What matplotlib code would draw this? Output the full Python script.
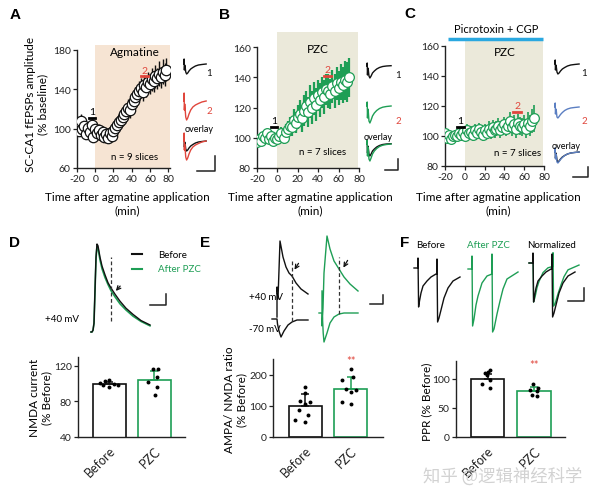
import matplotlib
matplotlib.use('Agg')
import matplotlib.pyplot as plt
from matplotlib.lines import Line2D
from matplotlib.patches import FancyArrowPatch

plt.rcParams['font.family'] = ['Lato', 'DejaVu Sans']
plt.rcParams['axes.unicode_minus'] = False

# ---------------- data ----------------
GREEN = '#1e9e55'
RED = '#e0463c'
BLUE = '#5b7fc2'
BLUE_BAR = '#2aa8e0'

tA = list(range(-20, 80, 2))
A_val = [104, 98, 108, 100, 103, 95, 101, 97, 104, 92,
         100, 96, 99, 94, 97, 92, 95, 90, 96, 93,
         98, 101, 104, 107, 109, 112, 115, 118, 121, 119,
         125, 128, 132, 135, 138, 141, 137, 144, 142, 147,
         145, 150, 148, 153, 151, 156, 152, 158, 155, 160]
A_err = [6, 5, 7, 5, 6, 5, 6, 5, 6, 5,
         5, 5, 6, 5, 6, 5, 5, 5, 6, 5,
         6, 6, 7, 7, 7, 8, 8, 8, 9, 8,
         9, 9, 10, 9, 10, 10, 9, 11, 10, 11,
         10, 12, 11, 12, 11, 13, 11, 13, 12, 12]

tB = list(range(-20, 72, 2))
B_val = [97, 99, 98, 101, 100, 103, 99, 101, 98, 100,
         99, 101, 103, 100, 104, 106, 108, 107, 112, 110,
         114, 116, 113, 118, 121, 117, 124, 120, 126, 122,
         128, 125, 130, 127, 132, 131, 129, 134, 131, 136,
         133, 137, 135, 138, 137, 140]
B_err = [2, 3, 3, 3, 3, 3, 3, 3, 3, 3,
         3, 3, 4, 4, 5, 5, 6, 6, 7, 7,
         8, 9, 9, 10, 10, 10, 11, 11, 11, 11,
         10, 11, 10, 11, 10, 11, 10, 11, 11, 11,
         11, 12, 12, 13, 13, 13]

tC = list(range(-20, 72, 2))
C_val = [102, 99, 101, 98, 100, 101, 100, 102, 101, 103,
         100, 104, 102, 103, 101, 104, 102, 105, 103, 101,
         104, 102, 105, 103, 106, 104, 105, 107, 104, 106,
         108, 105, 107, 110, 106, 108, 105, 109, 107, 106,
         108, 105, 109, 107, 110, 112]
C_err = [3, 3, 3, 3, 3, 3, 3, 3, 3, 3, 3, 4, 4, 4, 4, 4, 4, 4, 4, 4,
         4, 4, 5, 5, 5, 5, 5, 5, 5, 5, 5, 5, 5, 6, 6, 6, 6, 6, 6, 6,
         6, 6, 7, 7, 8, 9]

# fEPSP example traces (time ms, amplitude a.u.)
fep_t = [0, 0.3, 0.6, 1.0, 1.5, 2.2, 3.2, 4.5, 6, 8, 10.5, 13.5, 17, 21, 26]
A1 = [0, 5, -6, -1, -3, -8, -10, -9, -7, -5, -3.5, -2, -1, -0.5, 0]
A2 = [0, 8, -9, -3, -8, -16, -19, -17, -13, -9, -6, -4, -2.5, -1, 0]
B1 = [0, 3, -9, -2, -4, -10, -12, -10, -7, -5, -3, -1.5, -0.5, 0, 0.3]
B2 = [0, 4, -12, -3, -6, -15, -17, -14, -10, -7, -4.5, -2.5, -1.2, -0.5, 0]
C1 = [0, 4, -6, -1, -3, -8, -10, -9, -7, -5, -3.5, -2, -1, -0.5, 0]
C2 = [0, 4, -7, -2, -4, -10, -11, -9.5, -7.5, -5.5, -3.5, -2, -1, -0.5, 0]

# NMDA currents at +40 mV (panel D)
nmda_t = [-1, 0, 1, 2, 4, 5, 6, 8, 10, 13, 16, 19, 23, 28, 34, 41, 49, 58]
nmda_before = [0, 0, 0.02, 0.1, 0.85, 1.0, 0.98, 0.85, 0.75, 0.65, 0.56, 0.5, 0.43, 0.35, 0.27, 0.2, 0.13, 0.08]
nmda_after = [0, 0, 0.02, 0.1, 0.83, 0.98, 0.95, 0.82, 0.72, 0.62, 0.54, 0.47, 0.40, 0.32, 0.25, 0.18, 0.12, 0.07]

# AMPA/NMDA traces (panel E)
eb40_t = [0, 0, 1, 3, 6, 9, 12, 15, 19, 24, 31]
eb40_y = [2, 32, 20, 78, 62, 52, 46, 43, 36, 30, 25]
eb70_t = [-5, 0, 0.5, 2, 4, 7, 11, 15, 20, 31]
eb70_y = [0, 0, -5, -12, -18, -12, -6, -3, -1, -1]
ep40_t = [0, 0, 1, 2, 5, 8, 12, 17, 22, 28, 36]
ep40_y = [22, -13, 5, 40, 77, 64, 52, 44, 36, 29, 22]
ep70_t = [-3, 0, 0.5, 1.2, 2, 5, 8, 12, 17, 22, 36]
ep70_y = [0, 0, -5, -20, -29, -20, -10, -4, -1, 0, 0]

# paired-pulse traces (panel F)
fb_t = [-4, 0, 0, 0.6, 1.5, 3, 5, 9, 13, 18, 19, 19, 19.6, 21, 23, 26, 30, 35, 42]
fb_y = [0, 0, 10, -39, -33, -25, -18, -13, -9, -6, -6, 9, -54, -50, -42, -30, -20, -13, -9]
fa_t = [-4, 0, 0, 0.6, 2, 4, 6, 10, 15, 20, 20, 20.6, 22, 25, 28, 31, 35, 46]
fa_y = [0, 0, 13, -57, -50, -36, -27, -14, -7, -5, 15, -63, -60, -45, -32, -20, -10, -3]

# bar charts
bar_labels = ['Before', 'PZC']
D_mean = [100, 104]; D_err = [2, 10.5]
D_before = [101, 103, 104, 100, 99, 96, 98]
D_pzc = [116, 116, 108, 102, 96, 87]
E_mean = [100, 155]; E_err = [37, 37]
E_before = [159, 140, 114, 113, 106, 85, 69, 53, 49]
E_pzc = [219, 192, 182, 155, 152, 144, 112, 106]
F_mean = [100, 79]; F_err = [8, 7]
F_before = [115, 112, 110, 106, 97, 90, 83]
F_pzc = [91, 84, 81, 78, 72, 70]

D_jb = [-0.2, -0.1, 0.0, 0.1, 0.2, 0.0, -0.15]
D_jp = [-0.03, 0.08, 0.05, -0.14, 0.05, 0.02]
E_jb = [0.0, 0.0, -0.11, 0.11, 0.0, -0.14, 0.07, -0.22, 0.0]
E_jp = [0.01, 0.05, -0.2, -0.1, 0.12, 0.01, -0.2, 0.01]
F_jb = [0.06, 0.02, -0.05, -0.01, 0.06, -0.12, 0.06]
F_jp = [-0.01, 0.09, -0.09, 0.06, -0.05, 0.06]

# ---------------- figure ----------------
W, H = 600, 502
fig = plt.figure(figsize=(W / 100, H / 100), dpi=100)
SP = '#222222'


def px_axes(l, t, r, b):
    return fig.add_axes([l / W, 1 - b / H, (r - l) / W, (b - t) / H])


def ftext(x, y, s, **kw):
    kw.setdefault('ha', 'center')
    kw.setdefault('va', 'center')
    return fig.text(x / W, 1 - y / H, s, **kw)


def fline(xs, ys, **kw):
    kw.setdefault('color', SP)
    kw.setdefault('lw', 1.0)
    fig.add_artist(Line2D([x / W for x in xs], [1 - y / H for y in ys],
                          transform=fig.transFigure, **kw))


def farrow(x1, y1, x2, y2):
    fig.add_artist(FancyArrowPatch((x1 / W, 1 - y1 / H), (x2 / W, 1 - y2 / H),
                                   transform=fig.transFigure, arrowstyle='->',
                                   mutation_scale=7, lw=0.9, color='#111'))


def style(ax, fs=7.5):
    for s in ['top', 'right']:
        ax.spines[s].set_visible(False)
    for s in ['left', 'bottom']:
        ax.spines[s].set_color(SP)
        ax.spines[s].set_linewidth(1.0)
    ax.tick_params(direction='out', length=3, width=0.9, colors=SP,
                   labelsize=fs, pad=1.5, labelcolor='#222')


def trace_ax(l, t, r, b, xlim, ylim):
    a = px_axes(l, t, r, b)
    a.set_xlim(*xlim); a.set_ylim(*ylim)
    a.axis('off')
    return a


# ---- panel letters ----
for (x, y, s) in [(15, 15, 'A'), (225, 15, 'B'), (410, 14, 'C'),
                  (15, 243, 'D'), (205, 243, 'E'), (405, 243, 'F')]:
    ftext(x, y, s, fontsize=11, fontweight='bold', family='Liberation Sans')

# ---- time course panels ----
def timecourse(l, t, r, b, xlim, ylim, yticks, ybound, shade_end, shade_col,
               tt, vals, errs, col, elw, ms, label_txt, lab_xy):
    ax = px_axes(l, t, r, b)
    style(ax)
    ax.set_xlim(*xlim); ax.set_ylim(*ylim)
    ax.axvspan(0, shade_end, color=shade_col, zorder=0, lw=0)
    ax.errorbar(tt, vals, yerr=errs, fmt='o', mfc='white', mec=col, ms=ms,
                mew=0.9, ecolor=col, elinewidth=elw, capsize=0, zorder=3)
    ax.set_xticks([-20, 0, 20, 40, 60, 80])
    ax.set_yticks(yticks)
    ax.spines['left'].set_bounds(*ybound)
    ax.text(lab_xy[0], lab_xy[1], label_txt, ha='center', va='center', fontsize=8.5)
    return ax


def epoch_marks(ax, b1, y1, b2, y2):
    ax.plot(b1, [y1, y1], color='black', lw=2, zorder=6)
    ax.text(sum(b1) / 2, y1 + 1.5, '1', ha='center', va='bottom', fontsize=7.5, zorder=6)
    ax.plot(b2, [y2, y2], color=RED, lw=2, zorder=6)
    ax.text(sum(b2) / 2, y2 + 1.5, '2', ha='center', va='bottom', fontsize=7.5,
            color=RED, zorder=6)


axA = timecourse(77, 46, 170, 169, (-20, 82), (60, 185), [60, 100, 140, 180], (60, 180),
                 82, '#f6e4d3', tA, A_val, A_err, '#111111', 1.0, 7.5, 'Agmatine', (43, 178))
epoch_marks(axA, [-7, 0], 111, [50, 58], 153)
axA.text(43, 72, 'n = 9 slices', ha='center', va='center', fontsize=7)

axB = timecourse(257, 33, 359, 169, (-20, 80), (80, 170), [80, 100, 120, 140, 160], (80, 160),
                 79, '#ebe9da', tB, B_val, B_err, GREEN, 1.6, 7, 'PZC', (40, 159))
epoch_marks(axB, [-6, 0], 107, [46, 53], 141)
axB.text(44, 91, 'n = 7 slices', ha='center', va='center', fontsize=7)

axC = timecourse(445, 41, 544, 167, (-20, 80), (80, 164), [80, 100, 120, 140, 160], (80, 160),
                 79, '#ebe9da', tC, C_val, C_err, GREEN, 1.2, 7, 'PZC', (40, 156))
epoch_marks(axC, [-8, -1], 106, [49, 57], 116)
axC.text(53, 89, 'n = 7 slices', ha='center', va='center', fontsize=7)
axC.plot([-17, 79], [164.6, 164.6], color=BLUE_BAR, lw=2.5, clip_on=False,
         solid_capstyle='butt')
ftext(496, 30, 'Picrotoxin + CGP', fontsize=8)

# axis labels
ftext(37, 104, 'SC-CA1 fEPSPs amplitude\n(% baseline)', rotation=90, fontsize=8.5,
      linespacing=1.15)
for cx in (127, 310, 498):
    ftext(cx, 204, 'Time after agmatine application\n(min)', fontsize=8.5, linespacing=1.2)

# fEPSP insets
def fep_group(x0, x1, rows, tr1, tr2, col2, lab_x, lab_y1, lab_y2, ov_xy, sb):
    for (top, traces) in zip(rows, [[(tr1, '#111')], [(tr2, col2)],
                                     [(tr1, '#111'), (tr2, col2)]]):
        a = trace_ax(x0, top, x1, top + 30, (-1, 27), (-20, 10))
        for tr, c in traces:
            a.plot(fep_t, tr, color=c, lw=1.0)
    ftext(lab_x, lab_y1, '1', fontsize=7, color='#111')
    ftext(lab_x, lab_y2, '2', fontsize=7, color=RED)
    ftext(ov_xy[0], ov_xy[1], 'overlay', fontsize=6.5)
    fline([sb[0], sb[1], sb[1]], [sb[3], sb[3], sb[2]], lw=1.1)

fep_group(183, 207, (55, 92, 132), A1, A2, RED, 209, 73, 112, (199, 130), (197, 215, 157, 172))
fep_group(366, 392, (57, 97, 135), B1, B2, GREEN, 398, 75, 121, (378, 137), (385, 398, 160, 171))
fep_group(554, 580, (55, 98, 143), C1, C2, BLUE, 584, 74, 121, (566, 147), (573, 588, 168, 178))

# ---- panel D traces ----
aD = trace_ax(90, 240, 152, 338, (-2, 60), (-0.057, 1.057))
aD.plot(nmda_t, nmda_after, color=GREEN, lw=1.2)
aD.plot(nmda_t, nmda_before, color='#111', lw=1.0)
aD.plot([19, 19], [0.125, 0.85], color='#333', lw=0.9, ls=(0, (3, 2)))
farrow(122, 285, 114, 294)
fline([150, 166, 166], [306, 306, 295], lw=1.1)
fline([132, 142], [255, 255], color='#111', lw=1.5)
fline([132, 142], [270, 270], color=GREEN, lw=1.5)
ftext(158, 255, 'Before', fontsize=7, ha='left')
ftext(158, 270, 'After PZC', fontsize=7, ha='left', color=GREEN)
ftext(62, 319, '+40 mV', fontsize=7)

# ---- panel E traces ----
aEb = trace_ax(265, 235, 312, 345, (-12, 35), (-25, 85))
aEb.plot(eb40_t, eb40_y, color='#111', lw=1.0)
aEb.plot(eb70_t, eb70_y, color='#111', lw=1.0)
aEb.plot([15, 15], [-2, 60], color='#333', lw=0.9, ls=(0, (3, 2)))
aEp = trace_ax(310, 232, 362, 348, (-12, 40), (-34, 82))
aEp.plot(ep40_t, ep40_y, color=GREEN, lw=1.0)
aEp.plot(ep70_t, ep70_y, color=GREEN, lw=1.0)
aEp.plot([17, 17], [-1, 56], color='#333', lw=0.9, ls=(0, (3, 2)))
farrow(300, 262, 293, 273)
farrow(349, 259, 342, 271)
fline([370, 383, 383], [305, 305, 296], lw=1.1)
ftext(249, 297, '+40 mV', fontsize=7, ha='left')
ftext(249, 330, '-70 mV', fontsize=7, ha='left')

# ---- panel F traces ----
aFb = trace_ax(410, 250, 465, 340, (-8, 47), (-71, 19))
aFb.plot(fb_t, fb_y, color='#111', lw=1.0)
aFa = trace_ax(464, 250, 522, 340, (-8, 50), (-70, 20))
aFa.plot(fa_t, fa_y, color=GREEN, lw=1.0)
norm_k = min(fb_y[:10]) / min(fa_y[:10])
aFn = trace_ax(525, 250, 580, 340, (-8, 47), (-76, 14))
aFn.plot(fa_t, [v * norm_k for v in fa_y], color=GREEN, lw=1.0)
aFn.plot(fb_t, fb_y, color='#111', lw=1.0)
fline([568, 584, 584], [302, 302, 289], lw=1.1)
ftext(431, 245, 'Before', fontsize=7)
ftext(488, 245, 'After PZC', fontsize=7, color=GREEN)
ftext(552, 245, 'Normalized', fontsize=7)

# ---- bar charts ----
def barpanel(l, t, r, b, xlim, ylim, yticks, means, errs, before, pzc, jb, jp, stars_y=None):
    ax = px_axes(l, t, r, b)
    style(ax, fs=7.5)
    ax.set_xlim(*xlim); ax.set_ylim(*ylim)
    ax.bar([0, 1], means, width=0.72, color='white', edgecolor=['#111', GREEN],
           linewidth=1.2, zorder=2)
    for i, c in enumerate(['#111', GREEN]):
        ax.errorbar([i], [means[i]], yerr=[[0], [errs[i]]], fmt='none', ecolor=c,
                    elinewidth=1.1, capsize=3, capthick=1.1, zorder=3)
    ax.scatter([j for j in jb], before, s=8, color='black', zorder=4, lw=0)
    ax.scatter([1 + j for j in jp], pzc, s=8, color='black', zorder=4, lw=0)
    ax.set_yticks(yticks)
    ax.set_xticks([0, 1])
    ax.set_xticklabels(bar_labels, rotation=45, ha='right', va='top',
                       rotation_mode='anchor', fontsize=9)
    ax.tick_params(axis='x', length=0, pad=5)
    if stars_y is not None:
        ax.text(1, stars_y, '**', ha='center', va='center', color=RED, fontsize=8,
                clip_on=False)
    return ax

barpanel(78, 358, 185, 438, (-0.70, 1.68), (40, 130), [40, 80, 120],
         D_mean, D_err, D_before, D_pzc, D_jb, D_jp)
barpanel(273, 360, 383, 438, (-0.70, 1.70), (0, 250), [0, 100, 200],
         E_mean, E_err, E_before, E_pzc, E_jb, E_jp, stars_y=245)
barpanel(456, 362, 565, 438, (-0.68, 1.67), (0, 130), [0, 50, 100],
         F_mean, F_err, F_before, F_pzc, F_jb, F_jp, stars_y=124)

ftext(41, 398, 'NMDA current\n(% Before)', rotation=90, fontsize=8.5, linespacing=1.15)
ftext(236, 400, 'AMPA/ NMDA ratio\n(% Before)', rotation=90, fontsize=8.5, linespacing=1.15)
ftext(427, 402, 'PPR (% Before)', rotation=90, fontsize=8.5)

# watermark
ftext(503, 477, '知乎 @逻辑神经科学', fontsize=12.5, color='#d2d2d2',
      family=['Noto Sans CJK SC', 'DejaVu Sans'], zorder=10)

fig.savefig('out.png', dpi=100)
